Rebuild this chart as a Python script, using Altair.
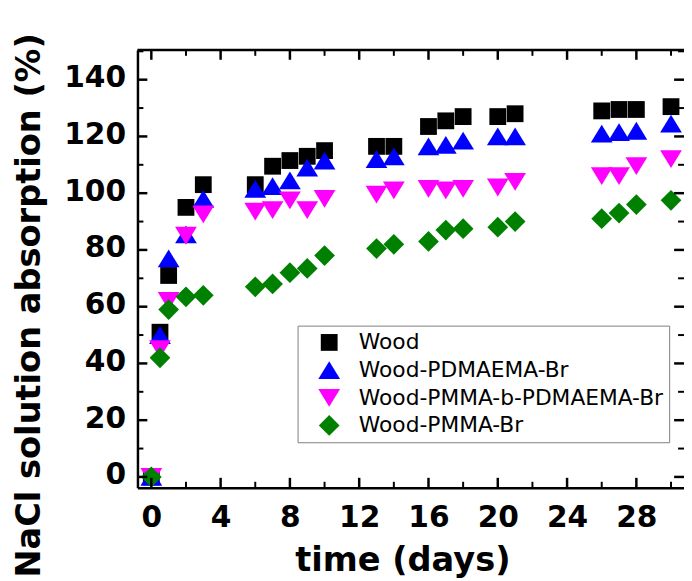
import altair as alt
import pandas as pd

# ---- data ----
days = [0, 0.5, 1, 2, 3, 6, 7, 8, 9, 10, 13, 14, 16, 17, 18, 20, 21, 26, 27, 28, 30]
wood = [0, 51, 71, 95, 103, 103, 109.5, 111.5, 113, 115, 116.5, 116.5, 123.5, 125.5, 127, 127, 128, 129, 129.5, 129.5, 130.5]
wood_pdmaema = [0, 50, 77, 85.5, 98, 101.5, 102.5, 104.5, 109, 111.5, 112, 113, 116.5, 117, 118.5, 120, 120, 121, 121.5, 122, 124.5]
wood_pmma_b_pdmaema = [0, 45, 62, 85, 92.5, 93.5, 94, 97.5, 94, 98, 99.5, 101, 101.5, 101, 101.5, 102, 104, 106, 106, 109.5, 112]
wood_pmma = [0, 42, 59, 63.5, 64, 67, 68, 72, 73.5, 78, 80.5, 82, 83, 87, 87.5, 88, 90, 91, 93, 96, 97.5]

series_names = ["Wood", "Wood-PDMAEMA-Br", "Wood-PMMA-b-PDMAEMA-Br", "Wood-PMMA-Br"]
series_values = [wood, wood_pdmaema, wood_pmma_b_pdmaema, wood_pmma]
series_colors = ["#000000", "#0000FF", "#FF00FF", "#008000"]
series_shapes = [
    "M-0.85,-0.85L0.85,-0.85L0.85,0.85L-0.85,0.85Z",
    "M0,-0.9L1.1,0.9L-1.1,0.9Z",
    "M0,0.9L1.1,-0.9L-1.1,-0.9Z",
    "M0,-1.05L1.05,0L0,1.05L-1.05,0Z",
]

x_labels = [0, 4, 8, 12, 16, 20, 24, 28]
x_minor = [2, 6, 10, 14, 18, 22, 26, 30]
y_labels = [0, 20, 40, 60, 80, 100, 120, 140]
y_minor = [10, 30, 50, 70, 90, 110, 130, 150]

x_domain = [-0.8, 30.75]
y_domain = [-3.8, 150.5]

W, H = 553, 443

rows = []
for name, vals in zip(series_names, series_values):
    for d, v in zip(days, vals):
        rows.append({"time": d, "value": v, "series": name})
df = pd.DataFrame(rows)

xs = alt.Scale(domain=x_domain, nice=False, zero=False)
ys = alt.Scale(domain=y_domain, nice=False, zero=False)

FONT = "DejaVu Sans"

x_axis = alt.Axis(
    values=x_labels, title="time (days)", grid=False, ticks=False, tickSize=0,
    domain=True, domainColor="#000000", domainWidth=2.5,
    labelFont=FONT, labelFontWeight="bold", labelFontSize=30, labelColor="#000000",
    labelPadding=15, labelFlush=False,
    titleFont=FONT, titleFontWeight="bold", titleFontSize=34, titleColor="#000000",
    titleX=268, titleY=84, titleAlign="center", titleBaseline="alphabetic",
)
y_axis = alt.Axis(
    values=y_labels, title="NaCl solution absorption (%)", grid=False, ticks=False, tickSize=0,
    domain=True, domainColor="#000000", domainWidth=2.5,
    labelFont=FONT, labelFontWeight="bold", labelFontSize=30, labelColor="#000000",
    labelPadding=12, labelOffset=-2, labelFlush=False,
    titleFont=FONT, titleFontWeight="bold", titleFontSize=34, titleColor="#000000",
    titleX=-99, titleY=258, titleAngle=270, titleAlign="center", titleBaseline="alphabetic",
)

legend = alt.Legend(
    title=None, orient="none", legendX=162, legendY=279,
    padding=6, symbolOffset=15, labelOffset=19, rowPadding=6,
    symbolSize=400, symbolStrokeWidth=0, symbolOpacity=1,
    labelFont=FONT, labelFontSize=22, labelColor="#000000", labelLimit=0,
    strokeColor="#808080", fillColor="#FFFFFF",
)

points = alt.Chart(df).mark_point(filled=True, size=400, opacity=1, strokeWidth=0).encode(
    x=alt.X("time:Q", scale=xs, axis=x_axis),
    y=alt.Y("value:Q", scale=ys, axis=y_axis),
    color=alt.Color("series:N", scale=alt.Scale(domain=series_names, range=series_colors), legend=legend),
    shape=alt.Shape("series:N", scale=alt.Scale(domain=series_names, range=series_shapes), legend=legend),
)

layers = [points]

def xticks(vals, length, sw):
    d = pd.DataFrame({"time": vals})
    base = alt.Chart(d).mark_rule(color="#000000", strokeWidth=sw)
    bottom = base.encode(x=alt.X("time:Q", scale=xs, axis=x_axis), y=alt.value(H), y2=alt.value(H - length))
    top = base.encode(x=alt.X("time:Q", scale=xs, axis=x_axis), y=alt.value(0), y2=alt.value(length))
    return [bottom, top]

def yticks(vals, length, sw):
    d = pd.DataFrame({"value": vals})
    base = alt.Chart(d).mark_rule(color="#000000", strokeWidth=sw)
    left = base.encode(y=alt.Y("value:Q", scale=ys, axis=y_axis), x=alt.value(0), x2=alt.value(length))
    right = base.encode(y=alt.Y("value:Q", scale=ys, axis=y_axis), x=alt.value(W - length), x2=alt.value(W))
    return [left, right]

layers += xticks(x_labels, 10, 2.5) + xticks(x_minor, 6, 2)
layers += yticks(y_labels, 10, 2.5) + yticks(y_minor, 6, 2)

top_frame = alt.Chart(pd.DataFrame({"a": [0]})).mark_rule(color="#000000", strokeWidth=2.5).encode(
    x=alt.value(0), x2=alt.value(W), y=alt.value(0)
)
layers.append(top_frame)

chart = alt.layer(*layers).properties(
    width=W, height=H,
    autosize=alt.AutoSizeParams(type="none"),
    padding={"left": 131, "top": 39, "right": 0, "bottom": 91},
).configure_view(stroke=None).configure(background="#FFFFFF")

chart.save("out.html", embed_options={"renderer": "svg", "actions": False})
